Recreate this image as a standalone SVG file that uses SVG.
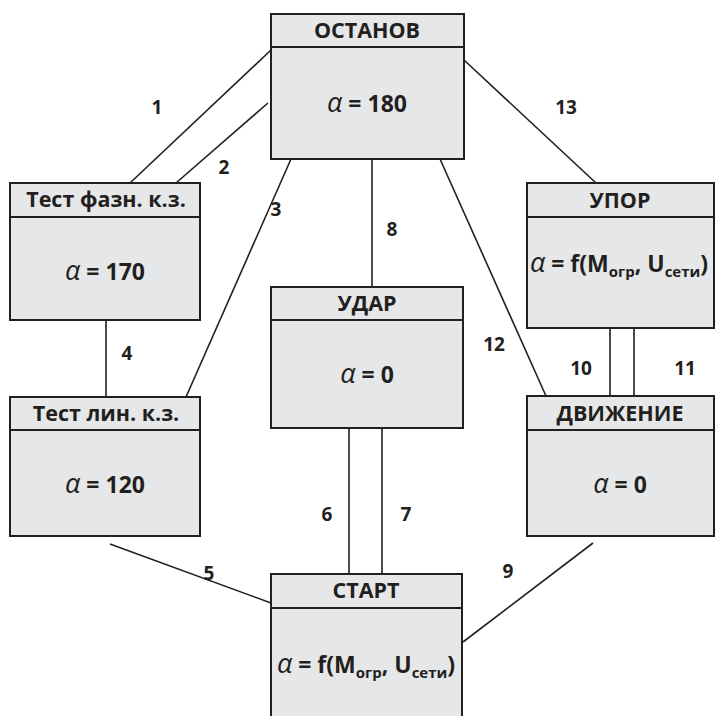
<svg xmlns="http://www.w3.org/2000/svg" width="716" height="716" viewBox="0 0 716 716">
<style>
.box{fill:#e6e7e8;stroke:#231f20;stroke-width:2}
.hd{stroke:#231f20;stroke-width:2}
.t{font-family:"Open Sans","Liberation Sans",sans-serif;font-weight:bold;font-size:21.5px;fill:#231f20;text-anchor:middle}
.v{font-family:"Open Sans","Liberation Sans",sans-serif;font-weight:bold;font-size:23px;fill:#231f20;text-anchor:middle}
.a{font-style:italic;font-weight:normal;font-size:27px}
.s{font-size:15px}
.c line{stroke:#231f20;stroke-width:1.6}
.n{font-family:"Open Sans","Liberation Sans",sans-serif;font-weight:bold;font-size:19px;fill:#231f20;text-anchor:middle}
</style>
<rect width="716" height="716" fill="#fff"/>
<g class="c" id="connectors">
<line x1="271" y1="50" x2="130" y2="183"/>
<line x1="268" y1="103" x2="176" y2="183"/>
<line x1="291" y1="159" x2="186" y2="397"/>
<line x1="106" y1="320" x2="106" y2="397"/>
<line x1="110" y1="544" x2="271" y2="603"/>
<line x1="349" y1="428" x2="349" y2="574"/>
<line x1="382" y1="428" x2="382" y2="574"/>
<line x1="372" y1="159" x2="372" y2="287"/>
<line x1="593" y1="543" x2="463" y2="642"/>
<line x1="610" y1="328" x2="610" y2="396"/>
<line x1="634" y1="328" x2="634" y2="396"/>
<line x1="440" y1="159" x2="546" y2="396"/>
<line x1="464" y1="60" x2="596" y2="183"/>
<text class="n" x="157" y="114">1</text>
<text class="n" x="224" y="174">2</text>
<text class="n" x="276" y="216">3</text>
<text class="n" x="127" y="360">4</text>
<text class="n" x="209" y="580">5</text>
<text class="n" x="327" y="521">6</text>
<text class="n" x="406" y="521">7</text>
<text class="n" x="392" y="236">8</text>
<text class="n" x="508" y="578">9</text>
<text class="n" x="581" y="375">10</text>
<text class="n" x="685" y="375">11</text>
<text class="n" x="494" y="351">12</text>
<text class="n" x="566" y="114">13</text>
</g>
<g id="ostanov">
<rect class="box" x="271" y="14" width="193" height="145"/>
<line class="hd" x1="271" y1="47" x2="464" y2="47"/>
<text class="t" x="367" y="38">ОСТАНОВ</text>
<text class="v" x="367" y="112"><tspan class="a">α</tspan> = 180</text>
</g>
<g id="test-faz">
<rect class="box" x="10" y="183" width="190" height="137"/>
<line class="hd" x1="10" y1="217" x2="200" y2="217"/>
<text class="t" x="106" y="207">Тест фазн. к.з.</text>
<text class="v" x="105" y="280"><tspan class="a">α</tspan> = 170</text>
</g>
<g id="test-lin">
<rect class="box" x="10" y="397" width="190" height="139"/>
<line class="hd" x1="10" y1="430" x2="200" y2="430"/>
<text class="t" x="106" y="421">Тест лин. к.з.</text>
<text class="v" x="105" y="493"><tspan class="a">α</tspan> = 120</text>
</g>
<g id="udar">
<rect class="box" x="271" y="287" width="192" height="141"/>
<line class="hd" x1="271" y1="320" x2="463" y2="320"/>
<text class="t" x="367" y="311">УДАР</text>
<text class="v" x="367" y="383"><tspan class="a">α</tspan> = 0</text>
</g>
<g id="upor">
<rect class="box" x="527" y="183" width="187" height="145"/>
<line class="hd" x1="527" y1="217" x2="714" y2="217"/>
<text class="t" x="620" y="208">УПОР</text>
<text class="v" x="619" y="272"><tspan class="a">α</tspan> = f(M<tspan class="s" dy="5">огр</tspan><tspan dy="-5">, U</tspan><tspan class="s" dy="5">сети</tspan><tspan dy="-5">)</tspan></text>
</g>
<g id="dvizhenie">
<rect class="box" x="527" y="396" width="187" height="140"/>
<line class="hd" x1="527" y1="430" x2="714" y2="430"/>
<text class="t" x="620" y="421">ДВИЖЕНИЕ</text>
<text class="v" x="620" y="493"><tspan class="a">α</tspan> = 0</text>
</g>
<g id="start">
<rect class="box" x="271" y="574" width="191" height="150"/>
<line class="hd" x1="271" y1="608" x2="462" y2="608"/>
<text class="t" x="366" y="598">СТАРТ</text>
<text class="v" x="366" y="673"><tspan class="a">α</tspan> = f(M<tspan class="s" dy="5">огр</tspan><tspan dy="-5">, U</tspan><tspan class="s" dy="5">сети</tspan><tspan dy="-5">)</tspan></text>
</g>
</svg>
